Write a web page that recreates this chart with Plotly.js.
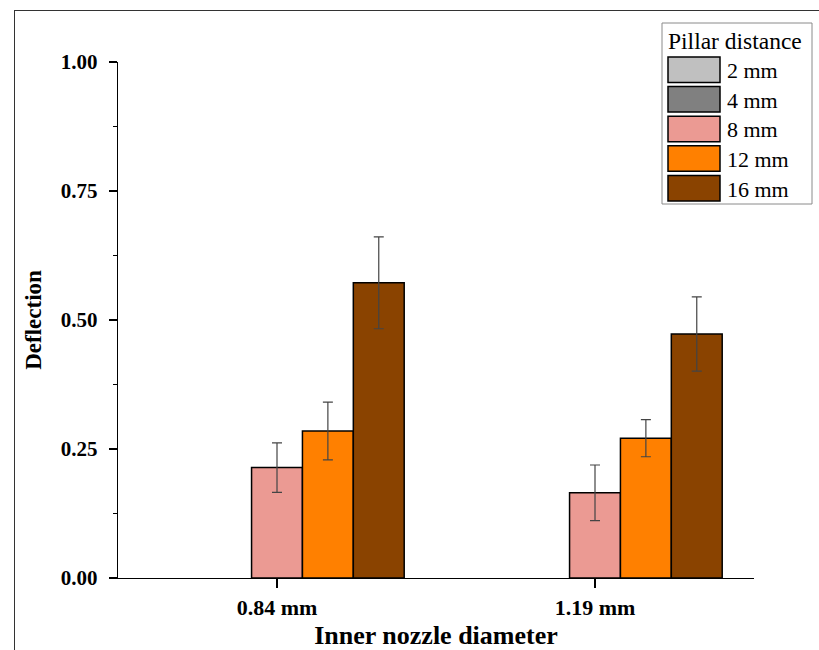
<!DOCTYPE html>
<html>
<head>
<meta charset="utf-8">
<script src="https://cdn.plot.ly/plotly-3.0.1.min.js"></script>
<style>
  html, body { margin: 0; padding: 0; background: #fff; }
  #wrap { position: relative; width: 819px; height: 650px; }
  #chart { width: 819px; height: 650px; }
  #frame { position: absolute; left: 14px; top: 10px; width: 900px; height: 700px;
           border-left: 1px solid #333; border-top: 1px solid #333; pointer-events: none; }
</style>
</head>
<body>
<div id="wrap">
  <div id="chart"></div>
  <div id="frame"></div>
</div>
<script>
// ---- data ----
const categories = ["0.84 mm", "1.19 mm"];
const seriesNames = ["2 mm", "4 mm", "8 mm", "12 mm", "16 mm"];
const seriesColors = ["#c0c0c0", "#808080", "#eb9a93", "#ff8000", "#8a4300"];
const val2mm  = [null, null];
const val4mm  = [null, null];
const val8mm  = [0.214, 0.165];
const val12mm = [0.285, 0.271];
const val16mm = [0.572, 0.473];
const err2mm  = [null, null];
const err4mm  = [null, null];
const err8mm  = [0.048, 0.054];
const err12mm = [0.056, 0.036];
const err16mm = [0.089, 0.072];
const yTickVals = [0, 0.25, 0.5, 0.75, 1.0];
const yTickText = ["0.00", "0.25", "0.50", "0.75", "1.00"];
const legendTitle = "Pillar distance";
const xTitle = "Inner nozzle diameter";
const yTitle = "Deflection";

const values = [val2mm, val4mm, val8mm, val12mm, val16mm];
const errors = [err2mm, err4mm, err8mm, err12mm, err16mm];

const FONT = "Liberation Serif";

const traces = seriesNames.map((name, i) => ({
  type: "bar",
  name: name,
  x: categories,
  y: values[i],
  marker: { color: seriesColors[i], line: { color: "#000", width: 1.5 } },
  error_y: { type: "data", array: errors[i], visible: true, color: "#444", thickness: 1.2, width: 5 },
  showlegend: false,
  hoverinfo: "skip"
}));

// plot area geometry (pixels)
const W = 819, H = 650;
const L = 118, R = 754, T = 62, B = 578;
const px = x => (x - L) / (R - L);
const py = y => (B - y) / (B - T);

// custom legend built from the series arrays
const shapes = [];
const annotations = [];
shapes.push({ type: "rect", xref: "paper", yref: "paper",
  x0: px(662), x1: px(812), y0: py(204), y1: py(23),
  line: { color: "#8a8a8a", width: 1 }, fillcolor: "rgba(255,255,255,0)" });
annotations.push({ xref: "paper", yref: "paper", x: px(666), y: py(41),
  xanchor: "left", yanchor: "middle", showarrow: false, text: legendTitle,
  font: { family: FONT, size: 23.5, color: "#000" } });
seriesNames.forEach((name, i) => {
  const top = 57 + i * 29.6;
  const bot = top + 25.5;
  shapes.push({ type: "rect", xref: "paper", yref: "paper",
    x0: px(668), x1: px(720), y0: py(bot), y1: py(top),
    line: { color: "#000", width: 1.5 }, fillcolor: seriesColors[i] });
  annotations.push({ xref: "paper", yref: "paper", x: px(725), y: py((top + bot) / 2 + 1),
    xanchor: "left", yanchor: "middle", showarrow: false, text: name,
    font: { family: FONT, size: 22, color: "#000" } });
});

const layout = {
  width: W, height: H,
  margin: { l: L, r: W - R, t: T, b: H - B, pad: 0 },
  paper_bgcolor: "#fff", plot_bgcolor: "#fff",
  barmode: "group", bargap: 0.2, bargroupgap: 0,
  font: { family: FONT, color: "#000" },
  xaxis: {
    type: "category", range: [-0.5, 1.5],
    showline: true, linecolor: "#000", linewidth: 1.3,
    ticks: "outside", ticklen: 9, tickwidth: 1.3, tickcolor: "#000",
    tickfont: { family: FONT, size: 22, weight: "bold", color: "#000" },
    showgrid: false, zeroline: false,
    title: { text: xTitle, font: { family: FONT, size: 26, weight: "bold", color: "#000" }, standoff: 8 }
  },
  yaxis: {
    range: [0, 1], tickvals: yTickVals, ticktext: yTickText,
    showline: true, linecolor: "#000", linewidth: 1.3,
    ticks: "outside", ticklen: 8, tickwidth: 1.3, tickcolor: "#000",
    minor: { dtick: 0.125, ticks: "outside", ticklen: 4, tickwidth: 1.3, tickcolor: "#000", showgrid: false },
    ticklabelstandoff: 7,
    tickfont: { family: FONT, size: 21, weight: "bold", color: "#000" },
    showgrid: false, zeroline: false,
    title: { text: yTitle, font: { family: FONT, size: 23, weight: "bold", color: "#000" }, standoff: 12 }
  },
  shapes: shapes,
  annotations: annotations
};

Plotly.newPlot("chart", traces, layout, { displayModeBar: false, staticPlot: true });
</script>
</body>
</html>
